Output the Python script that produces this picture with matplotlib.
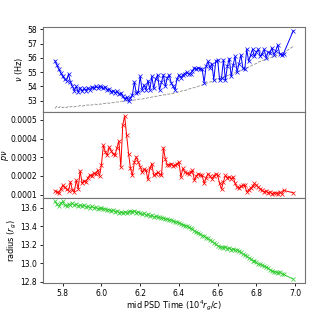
import numpy as np
import matplotlib
matplotlib.use('Agg')
import matplotlib.pyplot as plt

# mid PSD times (10^4 r_g/c)
time = [5.76, 5.77, 5.78, 5.79, 5.80, 5.81, 5.82, 5.83, 5.84, 5.85,
        5.86, 5.87, 5.88, 5.89, 5.90, 5.91, 5.92, 5.93, 5.94, 5.95,
        5.96, 5.97, 5.98, 5.99, 6.00, 6.01, 6.02, 6.03, 6.04, 6.05,
        6.06, 6.07, 6.08, 6.09, 6.10, 6.11, 6.12, 6.13, 6.14, 6.15,
        6.16, 6.17, 6.18, 6.19, 6.20, 6.21, 6.22, 6.23, 6.24, 6.25,
        6.26, 6.27, 6.28, 6.29, 6.30, 6.31, 6.32, 6.33, 6.34, 6.35,
        6.36, 6.37, 6.38, 6.39, 6.40, 6.41, 6.42, 6.43, 6.44, 6.45,
        6.46, 6.47, 6.48, 6.49, 6.50, 6.51, 6.52, 6.53, 6.54, 6.55,
        6.56, 6.57, 6.58, 6.59, 6.60, 6.61, 6.62, 6.63, 6.64, 6.65,
        6.66, 6.67, 6.68, 6.69, 6.70, 6.71, 6.72, 6.73, 6.74, 6.75,
        6.76, 6.77, 6.78, 6.79, 6.80, 6.81, 6.82, 6.83, 6.84, 6.85,
        6.86, 6.87, 6.88, 6.89, 6.90, 6.91, 6.92, 6.93, 6.94, 6.99]

# QPO frequency (Hz)
nu = [55.8, 55.5, 55.2, 54.95, 54.7, 54.5, 54.4, 54.85, 54.3, 54.0,
      53.7, 54.0, 53.6, 53.9, 53.65, 53.85, 53.7, 53.9, 53.75, 53.95,
      53.85, 54.0, 53.9, 54.0, 53.95, 53.85, 53.95, 53.75, 53.8, 53.6,
      53.7, 53.55, 53.65, 53.45, 53.5, 53.3, 53.1, 53.25, 52.95, 53.2,
      53.4, 54.3, 53.5, 53.6, 54.7, 53.75, 54.1, 53.75, 54.4, 53.75,
      54.7, 53.85, 54.5, 54.8, 53.75, 54.3, 54.8, 54.0, 54.6, 54.8,
      54.25, 54.0, 53.75, 54.5, 54.8, 54.6, 54.8, 54.9, 55.0, 54.85,
      54.9, 55.1, 55.3, 55.2, 55.3, 55.25, 55.2, 54.25, 55.4, 55.75,
      55.3, 55.6, 54.45, 55.75, 55.85, 54.45, 54.6, 55.85, 54.45, 55.4,
      55.95, 54.7, 55.5, 56.1, 55.0, 55.6, 56.2, 55.3, 55.2, 56.6,
      55.75, 56.2, 56.6, 56.1, 56.4, 56.6, 56.1, 56.3, 56.6, 56.0,
      56.4, 56.35, 56.7, 56.2, 56.5, 56.9, 56.3, 56.2, 56.3, 57.9]

# reference frequency (grey dashed)
nu_ref = [52.45, 52.6, 52.5, 52.6, 52.5, 52.55, 52.5, 52.6, 52.55, 52.6,
          52.55, 52.6, 52.6, 52.65, 52.6, 52.65, 52.65, 52.7, 52.65, 52.7,
          52.7, 52.75, 52.7, 52.75, 52.75, 52.8, 52.8, 52.85, 52.8, 52.85,
          52.85, 52.9, 52.9, 52.9, 52.95, 52.95, 52.95, 53.0, 52.95, 53.0,
          53.0, 53.05, 53.05, 53.1, 53.1, 53.1, 53.15, 53.15, 53.2, 53.2,
          53.25, 53.25, 53.3, 53.3, 53.35, 53.35, 53.4, 53.4, 53.45, 53.45,
          53.5, 53.5, 53.55, 53.6, 53.6, 53.65, 53.7, 53.7, 53.75, 53.8,
          53.85, 53.9, 53.9, 53.95, 54.0, 54.05, 54.1, 54.15, 54.2, 54.25,
          54.3, 54.35, 54.4, 54.45, 54.5, 54.55, 54.6, 54.65, 54.7, 54.75,
          54.8, 54.85, 54.9, 54.95, 55.0, 55.05, 55.1, 55.15, 55.2, 55.3,
          55.35, 55.4, 55.5, 55.55, 55.6, 55.7, 55.75, 55.8, 55.85, 55.9,
          55.95, 56.0, 56.05, 56.1, 56.15, 56.2, 56.25, 56.3, 56.35, 56.8]

# peak power (x 1e-4)
pnu = [1.2, 1.15, 1.1, 1.3, 1.5, 1.4, 1.3, 1.2, 1.68, 1.25,
       1.15, 1.77, 1.3, 2.27, 1.6, 1.75, 1.7, 1.9, 2.05, 2.0,
       2.15, 2.1, 2.3, 2.0, 2.6, 3.64, 3.3, 3.1, 3.55, 3.35,
       3.2, 3.1, 3.5, 3.86, 2.48, 4.72, 5.2, 4.18, 3.2, 2.4,
       2.03, 2.75, 3.02, 2.75, 2.5, 2.2, 2.35, 2.3, 1.82, 2.4,
       2.66, 2.03, 2.1, 2.2, 2.1, 2.03, 3.5, 2.9, 2.57, 2.6,
       2.66, 2.55, 2.57, 2.65, 2.75, 1.95, 2.4, 2.2, 2.15, 2.12,
       2.2, 2.3, 1.77, 2.0, 2.12, 2.05, 2.03, 1.6, 1.9, 2.12,
       2.0, 1.86, 2.0, 2.12, 2.03, 1.6, 1.3, 1.7, 2.03, 1.9,
       1.95, 1.86, 1.95, 1.6, 1.4, 1.35, 1.45, 1.5, 1.5, 1.15,
       1.25, 1.35, 1.45, 1.6, 1.5, 1.4, 1.3, 1.23, 1.15, 1.2,
       1.1, 1.15, 1.05, 1.1, 1.1, 1.05, 1.15, 1.05, 1.23, 1.1]

# radius (r_g)
radius = [13.67, 13.64, 13.62, 13.65, 13.67, 13.63, 13.62, 13.64, 13.63, 13.65,
          13.63, 13.64, 13.62, 13.63, 13.62, 13.63, 13.61, 13.62, 13.6, 13.62,
          13.6, 13.61, 13.59, 13.6, 13.6, 13.59, 13.59, 13.58, 13.58, 13.57,
          13.58, 13.56, 13.57, 13.55, 13.56, 13.54, 13.56, 13.55, 13.56, 13.57,
          13.56, 13.57, 13.55, 13.56, 13.54, 13.53, 13.54, 13.52, 13.53, 13.51,
          13.52, 13.5, 13.51, 13.5, 13.5, 13.49, 13.49, 13.48, 13.48, 13.47,
          13.47, 13.46, 13.45, 13.45, 13.44, 13.43, 13.42, 13.41, 13.41, 13.39,
          13.38, 13.37, 13.35, 13.34, 13.33, 13.32, 13.3, 13.3, 13.28, 13.27,
          13.25, 13.24, 13.22, 13.21, 13.19, 13.18, 13.18, 13.17, 13.18, 13.16,
          13.17, 13.15, 13.16, 13.14, 13.15, 13.13, 13.12, 13.1, 13.09, 13.08,
          13.06, 13.05, 13.03, 13.03, 13.01, 12.99, 12.99, 12.98, 12.97, 12.96,
          12.95, 12.93, 12.92, 12.91, 12.91, 12.9, 12.91, 12.89, 12.88, 12.83]

plt.rcParams['font.size'] = 5.5
plt.rcParams['axes.labelsize'] = 5.9
plt.rcParams['axes.edgecolor'] = '0.45'
plt.rcParams['axes.linewidth'] = 0.8

fig, axs = plt.subplots(3, 1, sharex=True, figsize=(3.26, 3.13), dpi=100)
fig.subplots_adjust(left=0.132, right=0.936, top=0.914, bottom=0.096, hspace=0)

mk = dict(marker='x', markersize=3, markeredgewidth=0.5, linewidth=0.7)

axs[0].plot(time, nu_ref, '--', color='0.55', linewidth=0.6)
axs[0].plot(time, nu, color='blue', **mk)
axs[0].set_ylabel(r'$\nu$ (Hz)')
axs[0].yaxis.set_label_coords(-0.068, 0.5)
axs[0].set_yticks([53, 54, 55, 56, 57, 58])

axs[1].plot(time, np.array(pnu) * 1e-4, color='red', **mk)
axs[1].set_ylabel(r'$p\nu$')
axs[1].yaxis.set_label_coords(-0.124, 0.5)
axs[1].set_yticks([0.0001, 0.0002, 0.0003, 0.0004, 0.0005])

axs[2].plot(time, radius, color='limegreen', **mk)
axs[2].set_ylabel(r'radius ($r_g$)')
axs[2].yaxis.set_label_coords(-0.09, 0.5)
axs[2].set_xlabel(r'mid PSD Time ($10^4 r_g/c$)')
axs[2].xaxis.set_label_coords(0.5, -0.185)
axs[2].set_yticks([12.8, 13.0, 13.2, 13.4, 13.6])
axs[2].set_xticks([5.8, 6.0, 6.2, 6.4, 6.6, 6.8, 7.0])

for ax in axs:
    ax.tick_params(length=2.5, width=0.6, pad=2)

plt.savefig('out.png')
